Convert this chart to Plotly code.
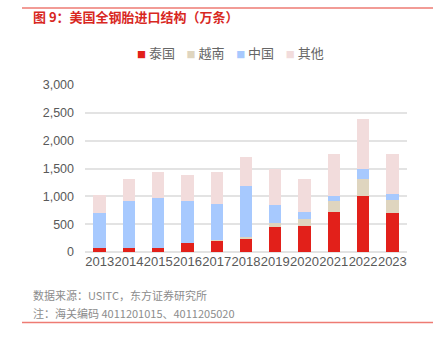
import plotly.graph_objects as go

# US truck & bus (all-steel) tyre imports by origin, 10k units
years = ["2013", "2014", "2015", "2016", "2017", "2018", "2019", "2020", "2021", "2022", "2023"]
thailand = [70, 70, 70, 160, 200, 235, 455, 475, 715, 1005, 700]
vietnam = [0, 0, 0, 0, 20, 40, 65, 115, 200, 305, 240]
china = [630, 845, 900, 755, 640, 910, 325, 130, 95, 180, 100]
others = [320, 390, 460, 470, 570, 520, 640, 590, 745, 895, 715]

series_names = ["泰国", "越南", "中国", "其他"]
series_values = [thailand, vietnam, china, others]
series_colors = ["#E2201A", "#DFD5BF", "#A7C9FE", "#F2DCDC"]

W, H = 439, 342
ML, MR, MT, MB = 85, 32, 85, 90
plot_w = W - ML - MR
plot_h = H - MT - MB


def px_x(x):
    return (x - ML) / plot_w


def px_y(y):
    return (H - MB - y) / plot_h


fig = go.Figure()
for name, vals, color in zip(series_names, series_values, series_colors):
    fig.add_trace(go.Bar(
        x=years, y=vals, name=name,
        marker=dict(color=color, line=dict(width=0)),
        showlegend=False,
    ))

# legend row built from the series names/colours
legend_text = "&nbsp;&nbsp;&nbsp;&nbsp;".join(
    f"<span style='color:{c};font-size:9px'>■</span> {n}"
    for n, c in zip(series_names, series_colors)
)

font_cjk = "Noto Sans CJK SC, Liberation Sans, sans-serif"

annotations = [
    dict(text="<b>图 9：美国全钢胎进口结构（万条）</b>", x=px_x(31), y=px_y(17),
         xref="paper", yref="paper", xanchor="left", yanchor="middle", showarrow=False,
         font=dict(family=font_cjk, size=13, color="#D8281F")),
    dict(text=legend_text, x=px_x(230), y=px_y(52),
         xref="paper", yref="paper", xanchor="center", yanchor="middle", showarrow=False,
         font=dict(family=font_cjk, size=13, color="#666666")),
    dict(text="数据来源：USITC，东方证券研究所", x=px_x(31), y=px_y(295),
         xref="paper", yref="paper", xanchor="left", yanchor="middle", showarrow=False,
         font=dict(family=font_cjk, size=11, color="#8C8C8C")),
    dict(text="注：海关编码 4011201015、4011205020", x=px_x(31), y=px_y(313),
         xref="paper", yref="paper", xanchor="left", yanchor="middle", showarrow=False,
         font=dict(family=font_cjk, size=11, color="#8C8C8C")),
]

shapes = [
    dict(type="line", xref="paper", yref="paper", x0=px_x(22), x1=px_x(433),
         y0=px_y(8), y1=px_y(8), line=dict(color="#EE7B73", width=1.5)),
    dict(type="line", xref="paper", yref="paper", x0=px_x(22), x1=px_x(433),
         y0=px_y(322.5), y1=px_y(322.5), line=dict(color="#EE7B73", width=1.5)),
]

fig.update_layout(
    width=W, height=H,
    margin=dict(l=ML, r=MR, t=MT, b=MB),
    barmode="stack",
    bargap=0.58,
    plot_bgcolor="white",
    paper_bgcolor="white",
    annotations=annotations,
    shapes=shapes,
    font=dict(family="Liberation Sans, Arial, sans-serif", color="#595959"),
)
fig.update_xaxes(
    showgrid=False, showline=False, ticks="",
    tickfont=dict(size=13, color="#595959"),
    tickangle=0,
)
fig.update_yaxes(
    range=[0, 3000], dtick=500, tickformat=",",
    showgrid=True, gridcolor="#E3E3E3", gridwidth=1.5,
    zeroline=True, zerolinecolor="#E3E3E3", zerolinewidth=1.5,
    showline=False, ticks="",
    ticklabelstandoff=10,
    tickfont=dict(size=12.5, color="#595959"),
)

fig.write_html("out.html")
